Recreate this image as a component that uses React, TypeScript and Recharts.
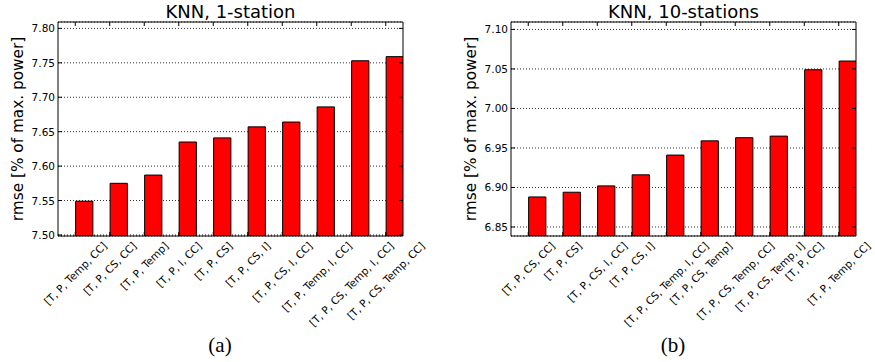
import { Bar, BarChart, CartesianGrid, XAxis, YAxis } from 'recharts'

const oneStationLabels = [
  '[T, P, Temp, CC]',
  '[T, P, CS, CC]',
  '[T, P, Temp]',
  '[T, P, I, CC]',
  '[T, P, CS]',
  '[T, P, CS, I]',
  '[T, P, CS, I, CC]',
  '[T, P, Temp, I, CC]',
  '[T, P, CS, Temp, I, CC]',
  '[T, P, CS, Temp, CC]',
]
const oneStationRmse = [7.549, 7.575, 7.587, 7.635, 7.641, 7.657, 7.664, 7.686, 7.753, 7.759]
const oneStationTicks = [7.5, 7.55, 7.6, 7.65, 7.7, 7.75, 7.8]
const oneStationRange = [7.4985, 7.8093]

const tenStationLabels = [
  '[T, P, CS, CC]',
  '[T, P, CS]',
  '[T, P, CS, I, CC]',
  '[T, P, CS, I]',
  '[T, P, CS, Temp, I, CC]',
  '[T, P, CS, Temp]',
  '[T, P, CS, Temp, CC]',
  '[T, P, CS, Temp, I]',
  '[T, P, CC]',
  '[T, P, Temp, CC]',
]
const tenStationRmse = [6.888, 6.894, 6.902, 6.916, 6.941, 6.959, 6.963, 6.965, 7.049, 7.06]
const tenStationTicks = [6.85, 6.9, 6.95, 7.0, 7.05, 7.1]
const tenStationRange = [6.8386, 7.1094]

const FONT = "'DejaVu Sans', sans-serif"
const TICK_FONT = 10.5
const BAR_WIDTH = 0.5 // bars start at the tick and span half a slot
const HEIGHT = 362
const PLOT_TOP = 22
const PLOT_BOTTOM = 236
const TICK_LEN = 4

let measureCtx: CanvasRenderingContext2D | null = null
function textWidth(s: string, size: number) {
  if (!measureCtx) measureCtx = document.createElement('canvas').getContext('2d')
  if (!measureCtx) return s.length * size * 0.6
  measureCtx.font = `${size}px "DejaVu Sans"`
  return measureCtx.measureText(s).width
}

function BottomTick({ x, y, payload, labels }: any) {
  const label = labels[payload.value] ?? ''
  const w = textWidth(label, TICK_FONT)
  // rotated label is centred under its tick, its box starting just below the frame
  const cy = y + 4 + ((w + TICK_FONT) * Math.SQRT1_2) / 2
  return (
    <g>
      <line x1={x} x2={x} y1={y} y2={y - TICK_LEN} stroke='#000' />
      <text
        x={x}
        y={cy}
        textAnchor='middle'
        dominantBaseline='central'
        transform={`rotate(-45 ${x} ${cy})`}
        fontSize={TICK_FONT}
        fontFamily={FONT}
        fill='#000'
      >
        {label}
      </text>
    </g>
  )
}

function TopTick({ x, y }: any) {
  return <line x1={x} x2={x} y1={y} y2={y + TICK_LEN} stroke='#000' />
}

function LeftTick({ x, y, payload }: any) {
  return (
    <g>
      <line x1={x} x2={x + TICK_LEN} y1={y} y2={y} stroke='#000' />
      <text
        x={x - 3}
        y={y}
        textAnchor='end'
        dominantBaseline='central'
        fontSize={TICK_FONT}
        fontFamily={FONT}
        fill='#000'
      >
        {Number(payload.value).toFixed(2)}
      </text>
    </g>
  )
}

function RightTick({ x, y }: any) {
  return <line x1={x} x2={x - TICK_LEN} y1={y} y2={y} stroke='#000' />
}

type PanelProps = {
  left: number
  width: number
  axisWidth: number
  marginRight: number
  labelX: number
  captionX: number
  title: string
  caption: string
  labels: string[]
  values: number[]
  ticks: number[]
  range: number[]
}

function Panel(p: PanelProps) {
  const data = p.labels.map((name, i) => ({ slot: i + BAR_WIDTH / 2, name, rmse: p.values[i] }))
  const slots = p.labels.map((_, i) => i)
  const plotRight = p.width - p.marginRight
  const plotWidth = plotRight - p.axisWidth
  const barSize = (plotWidth / p.labels.length) * BAR_WIDTH
  const midX = (p.axisWidth + plotRight) / 2
  const midY = (PLOT_TOP + PLOT_BOTTOM) / 2
  const xDomain = [-0.5, p.labels.length - 0.5]

  // the top/right axes only carry the frame and inward ticks; 1px keeps them rendered
  return (
    <div style={{ position: 'absolute', left: p.left, top: 0, width: p.width, height: HEIGHT }}>
      <BarChart
        width={p.width}
        height={HEIGHT}
        data={data}
        margin={{
          top: PLOT_TOP - 1,
          right: p.marginRight - 1,
          bottom: HEIGHT - PLOT_BOTTOM - 1,
          left: 0,
        }}
      >
        <XAxis
          xAxisId='b'
          dataKey='slot'
          type='number'
          domain={xDomain}
          ticks={slots}
          interval={0}
          allowDataOverflow
          height={1}
          tickSize={0}
          tickMargin={0}
          tickLine={false}
          axisLine={{ stroke: '#000', strokeWidth: 1 }}
          tick={(props: any) => <BottomTick {...props} labels={p.labels} />}
        />
        <XAxis
          xAxisId='t'
          orientation='top'
          dataKey='slot'
          type='number'
          domain={xDomain}
          ticks={slots}
          interval={0}
          allowDataOverflow
          height={1}
          tickSize={0}
          tickMargin={0}
          tickLine={false}
          axisLine={{ stroke: '#000', strokeWidth: 1 }}
          tick={(props: any) => <TopTick {...props} />}
        />
        <YAxis
          yAxisId='l'
          type='number'
          domain={p.range}
          ticks={p.ticks}
          interval={0}
          allowDataOverflow
          width={p.axisWidth}
          tickSize={0}
          tickMargin={0}
          tickLine={false}
          axisLine={{ stroke: '#000', strokeWidth: 1 }}
          tick={(props: any) => <LeftTick {...props} />}
        />
        <YAxis
          yAxisId='r'
          orientation='right'
          type='number'
          domain={p.range}
          ticks={p.ticks}
          interval={0}
          allowDataOverflow
          width={1}
          tickSize={0}
          tickMargin={0}
          tickLine={false}
          axisLine={{ stroke: '#000', strokeWidth: 1 }}
          tick={(props: any) => <RightTick {...props} />}
        />
        <Bar
          xAxisId='b'
          yAxisId='l'
          dataKey='rmse'
          fill='#ff0000'
          stroke='#000'
          strokeWidth={1}
          barSize={barSize}
          isAnimationActive={false}
        />
        <CartesianGrid
          xAxisId='b'
          yAxisId='l'
          vertical={false}
          stroke='#333'
          strokeDasharray='1 2'
        />
      </BarChart>
      <svg
        width={p.width}
        height={HEIGHT}
        style={{ position: 'absolute', left: 0, top: 0, pointerEvents: 'none' }}
      >
        <text x={midX} y={18} textAnchor='middle' fontSize={18} fontFamily={FONT} fill='#000'>
          {p.title}
        </text>
        <text
          x={p.labelX}
          y={midY}
          textAnchor='middle'
          transform={`rotate(-90 ${p.labelX} ${midY})`}
          fontSize={15.3}
          fontFamily={FONT}
          fill='#000'
        >
          rmse [% of max. power]
        </text>
        <text
          x={p.captionX}
          y={352}
          textAnchor='middle'
          fontSize={21}
          fontFamily="'Liberation Serif', serif"
          fill='#000'
        >
          {p.caption}
        </text>
      </svg>
    </div>
  )
}

export default function App() {
  return (
    <div
      style={{
        position: 'fixed',
        left: 0,
        top: 0,
        width: 875,
        height: HEIGHT,
        background: '#fff',
        overflow: 'hidden',
      }}
    >
      <Panel
        left={0}
        width={440}
        axisWidth={58}
        marginRight={37}
        labelX={23}
        captionX={220}
        title='KNN, 1-station'
        caption='(a)'
        labels={oneStationLabels}
        values={oneStationRmse}
        ticks={oneStationTicks}
        range={oneStationRange}
      />
      <Panel
        left={440}
        width={435}
        axisWidth={71}
        marginRight={19}
        labelX={36}
        captionX={233}
        title='KNN, 10-stations'
        caption='(b)'
        labels={tenStationLabels}
        values={tenStationRmse}
        ticks={tenStationTicks}
        range={tenStationRange}
      />
    </div>
  )
}
